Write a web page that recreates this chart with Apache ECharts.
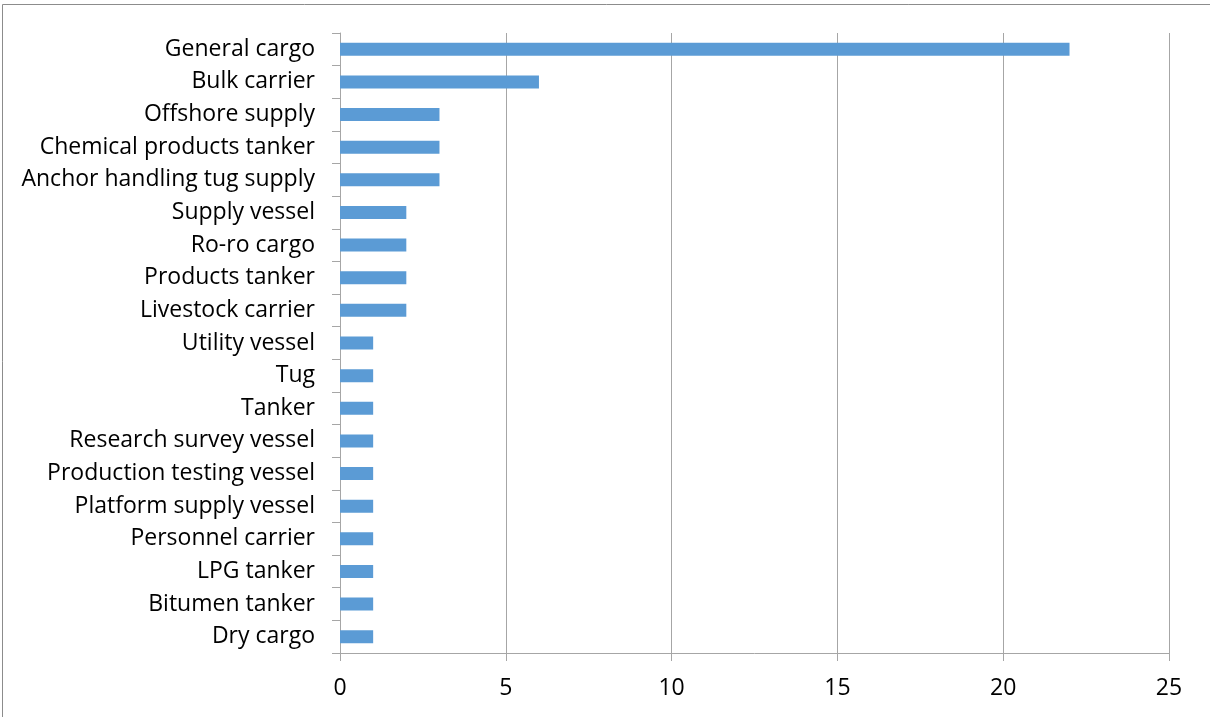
<!DOCTYPE html>
<html><head><meta charset="utf-8">
<script src="https://cdn.jsdelivr.net/npm/echarts@6/dist/echarts.min.js"></script>
<style>html,body{margin:0;padding:0;background:#fff}#c{width:1210px;height:717px}</style>
</head><body><div id="c"></div>
<script>
const categories = ["General cargo","Bulk carrier","Offshore supply","Chemical products tanker","Anchor handling tug supply","Supply vessel","Ro-ro cargo","Products tanker","Livestock carrier","Utility vessel","Tug","Tanker","Research survey vessel","Production testing vessel","Platform supply vessel","Personnel carrier","LPG tanker","Bitumen tanker","Dry cargo"];
const values = [22,6,3,3,3,2,2,2,2,1,1,1,1,1,1,1,1,1,1];
const xTicks = [0,5,10,15,20,25];

const chart = echarts.init(document.getElementById('c'), null, {renderer:'canvas'});
const font = "'Open Sans', 'Liberation Sans', sans-serif";
chart.setOption({
  animation:false,
  graphic:[{type:'rect',shape:{x:2.5,y:4.5,width:1300,height:800},style:{fill:'none',stroke:'#8c8c8c',lineWidth:1},silent:true}],
  grid:{left:340,right:41,top:33,bottom:64,containLabel:false},
  xAxis:{type:'value',min:xTicks[0],max:xTicks[xTicks.length-1],interval:5,
    axisLine:{show:true,lineStyle:{color:'#a6a6a6',width:1}},
    axisTick:{show:true,length:8,lineStyle:{color:'#a6a6a6'}},
    splitLine:{show:true,lineStyle:{color:'#a6a6a6',width:1}},
    axisLabel:{color:'#000',fontSize:23,fontFamily:font,margin:24}},
  yAxis:{type:'category',data:categories,inverse:true,
    axisLine:{show:true,lineStyle:{color:'#a6a6a6',width:1}},
    axisTick:{show:true,length:8,lineStyle:{color:'#a6a6a6'}},
    axisLabel:{color:'#000',fontSize:23,fontFamily:font,margin:25,padding:[5,0,0,0]}},
  series:[{type:'bar',data:values,barWidth:13,itemStyle:{color:'#5b9bd5'}}]
});
</script></body></html>
